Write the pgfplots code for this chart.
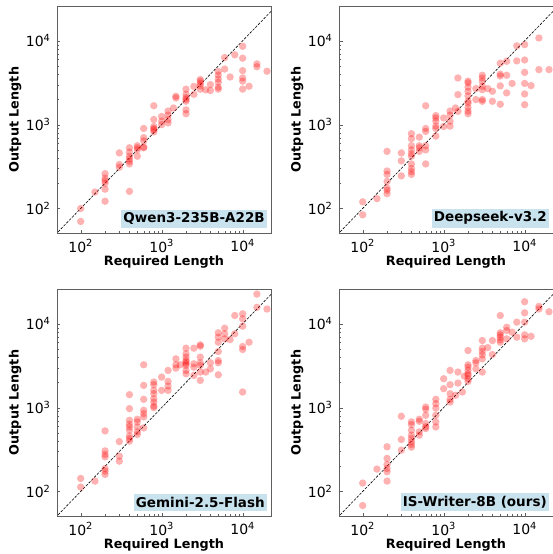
\documentclass[border=0pt]{standalone}
\usepackage{fontspec}
\setmainfont{DejaVu Sans}
\usepackage{pgfplots}
\pgfplotsset{compat=1.18}

\definecolor{tagblue}{RGB}{200,226,238}
\definecolor{framegray}{RGB}{95,95,95}

\pgfplotsset{
  panelax/.style={
    scale only axis, width=214pt, height=227pt,
    xmin=51, xmax=22400, ymin=51, ymax=26000,
    xtick={100,1000,10000},
    xticklabels={10\textsuperscript{2},10\textsuperscript{3},10\textsuperscript{4}},
    ytick={100,1000,10000},
    yticklabels={10\textsuperscript{2},10\textsuperscript{3},10\textsuperscript{4}},
    tick label style={font=\fontsize{14}{16}\selectfont},
    xlabel={Required Length}, ylabel={Output Length},
    label style={font=\bfseries\fontsize{12.8}{14}\selectfont},
    xlabel style={at={(axis description cs:0.5,-0.128)}, anchor=center},
    ylabel style={at={(axis description cs:-0.196,0.5)}, anchor=center},
    xticklabel style={yshift=-3pt},
    yticklabel style={xshift=-3pt},
    axis line style={framegray},
    tick style={framegray},
    tick align=inside,
    major tick length=3.5pt, minor tick length=2pt,
    xtick pos=bottom, ytick pos=left,
  },
  reddots/.style={only marks, mark=*, mark size=3.7pt, draw=none,
    mark options={draw opacity=0, line width=0pt, fill=red, fill opacity=0.3}},
  diagline/.style={black, line width=0.6pt, dash pattern=on 2.6pt off 1.4pt},
}
\tikzset{
  tagbox/.style={fill=tagblue, anchor=south east, inner xsep=2pt, inner ysep=3pt,
    font=\bfseries\fontsize{13.5}{15}\selectfont},
}

\begin{document}
\begin{tikzpicture}
\useasboundingbox (0,0) rectangle (552.5pt,554pt);

% top left
\begin{loglogaxis}[panelax, at={(57pt,321pt)}, anchor=south west]
\addplot[reddots] coordinates {
(100,100)(100,70)(150,157)
(200,260)(200,230)(200,215)(200,200)(200,170)(200,122)
(300,460)(300,335)(300,310)
(400,530)(400,470)(400,420)(400,390)(400,365)(400,340)(400,160)
(500,560)(500,530)(500,500)(500,420)
(600,900)(600,700)(600,640)(600,530)(600,540)
(800,1680)(800,1150)(800,950)(800,900)(800,870)(800,820)
(1000,1250)(1000,1100)(1000,1000)
(1200,1450)(1200,1300)(1200,1150)(1200,1050)
(1400,1580)(1500,2180)(1500,2080)
(2000,2650)(2000,2300)(2000,2100)(2000,2000)(2000,1900)(2000,1500)(2000,1350)
(2500,2850)(2500,2300)
(3000,3450)(3000,3300)(3000,3100)(3000,2900)(3000,2650)
(3500,2600)(4000,3000)(4000,2550)
(5000,4300)(5000,3900)(5000,3500)(5000,3200)(5000,2800)(5000,2650)
(6000,6300)(6000,4600)(7000,3700)(8000,6800)
(10000,8600)(10000,6200)(10000,4400)(10000,3600)(10000,3300)(10000,2650)
(12000,2870)(15000,5300)(15000,4900)(20000,4330)
};
\addplot[diagline] coordinates {(10,10) (100000,100000)};
\node[tagbox] at (rel axis cs:0.981,0.022) {Qwen3-235B-A22B};
\end{loglogaxis}

% top right
\begin{loglogaxis}[panelax, at={(339pt,321pt)}, anchor=south west]
\addplot[reddots] coordinates {
(100,120)(100,84)(150,131)
(200,480)(200,280)(200,255)(200,210)(200,175)(200,165)(200,150)
(300,460)(300,370)(300,245)
(400,780)(400,680)(400,560)(400,500)(400,450)(400,420)(400,340)(400,300)(400,275)(400,255)
(500,710)(500,560)(500,530)(500,480)
(600,1680)(600,900)(600,830)(600,560)(600,500)(600,340)
(800,1280)(800,1200)(800,1100)(800,960)(800,900)(800,730)
(1000,1200)(1000,950)
(1200,1450)(1200,1300)(1200,1100)(1200,960)
(1400,1580)(1500,3600)(1500,2280)(1500,1440)
(2000,3300)(2000,3150)(2000,2800)(2000,2500)(2000,2200)(2000,1900)(2000,1800)(2000,1600)(2000,1450)(2000,1350)
(2500,2690)(2500,1990)
(3000,3880)(3000,3600)(3000,3290)(3000,2870)(3000,2610)(3000,1990)(3000,1900)
(3500,2690)(4000,2500)(4000,1900)
(5000,5400)(5000,4000)(5000,3800)(5000,2900)(5000,1750)
(6000,5700)(6000,3880)(6000,2390)(7000,3100)
(8000,8700)(8000,5760)
(10000,9000)(10000,5900)(10000,4200)(10000,3100)(10000,2320)(10000,1730)
(12000,2920)(15000,10800)(15000,4530)(20000,4530)
};
\addplot[diagline] coordinates {(10,10) (100000,100000)};
\node[tagbox] at (rel axis cs:0.981,0.022) {Deepseek-v3.2};
\end{loglogaxis}

% bottom left
\begin{loglogaxis}[panelax, at={(57pt,38pt)}, anchor=south west]
\addplot[reddots] coordinates {
(100,143)(100,113)(150,133)
(200,528)(200,305)(200,277)(200,259)(200,188)(200,175)(200,160)
(300,394)(300,264)(300,230)
(400,1427)(400,973)(400,707)(400,634)(400,589)(400,538)(400,460)(400,429)(400,399)
(500,727)(500,676)(500,589)(500,514)(500,478)
(600,3245)(600,1842)(600,1256)(600,930)(600,849)(600,775)(600,573)
(800,2018)(800,1877)(800,1607)(800,1466)(800,1279)(800,1167)(800,1047)(800,1000)
(1000,2312)(1000,1607)
(1200,2779)(1200,2055)(1200,1808)(1200,1607)
(1500,3820)(1500,3245)(1500,2958)(1700,3245)
(2000,5116)(2000,4384)(2000,4000)(2000,3647)(2000,3490)(2000,3334)(2000,3186)(2000,2779)(2000,2535)
(2500,5116)(2500,3334)(2500,3043)(2500,2421)
(3000,5610)(3000,5400)(3000,4000)(3000,3426)(3000,3186)(3000,2655)(3000,2113)
(3500,2655)(4000,3426)(4000,2904)
(5000,7813)(5000,6928)(5000,6030)(5000,4667)(5000,3647)(5000,3426)(5000,2466)
(6000,8858)(6000,7593)(6000,6610)(7000,6480)
(8000,12560)(8000,7593)
(10000,13150)(10000,11460)(10000,9370)(10000,5360)(10000,4934)(10000,1535)
(12000,6030)(15000,22600)(15000,15700)(20000,15000)
};
\addplot[diagline] coordinates {(10,10) (100000,100000)};
\node[tagbox] at (rel axis cs:0.981,0.022) {Gemini-2.5-Flash};
\end{loglogaxis}

% bottom right
\begin{loglogaxis}[panelax, at={(339pt,38pt)}, anchor=south west]
\addplot[reddots] coordinates {
(100,126)(100,68)(150,185)
(200,341)(200,248)(200,210)(200,188)(200,172)(200,133)
(300,789)(300,417)(300,311)
(400,676)(400,628)(400,538)(400,469)(400,429)(400,391)(400,363)(400,338)
(500,727)(500,688)(500,514)(500,469)
(600,1018)(600,955)(600,811)(600,645)(600,589)(600,563)
(800,1256)(800,1116)(800,988)(800,811)(800,676)(800,589)
(1000,2211)(1000,1682)
(1200,2779)(1200,1877)(1200,1466)(1200,1256)(1200,1167)
(1400,1402)(1500,2655)(1500,1963)(1700,1535)(1800,2377)
(2000,4800)(2000,3245)(2000,3043)(2000,2779)(2000,2535)(2000,2421)(2000,2211)(2000,2055)
(2500,3647)(2500,3426)(2500,2904)
(3000,6310)(3000,5116)(3000,4667)(3000,4265)(3000,3820)(3000,2655)
(3500,5200)(4000,6310)(4000,4300)
(5000,12560)(5000,7813)(5000,7380)(5000,6928)(5000,6430)(5000,6030)
(6000,9100)(6000,8300)(6000,6610)(7000,7950)
(8000,10460)(8000,6928)
(10000,18300)(10000,13500)(10000,10460)(10000,7380)(10000,6610)
(12000,7100)(15000,16100)(15000,15000)(20000,13900)
};
\addplot[diagline] coordinates {(10,10) (100000,100000)};
\node[tagbox] at (rel axis cs:0.981,0.022) {IS-Writer-8B (ours)};
\end{loglogaxis}
\end{tikzpicture}
\end{document}
